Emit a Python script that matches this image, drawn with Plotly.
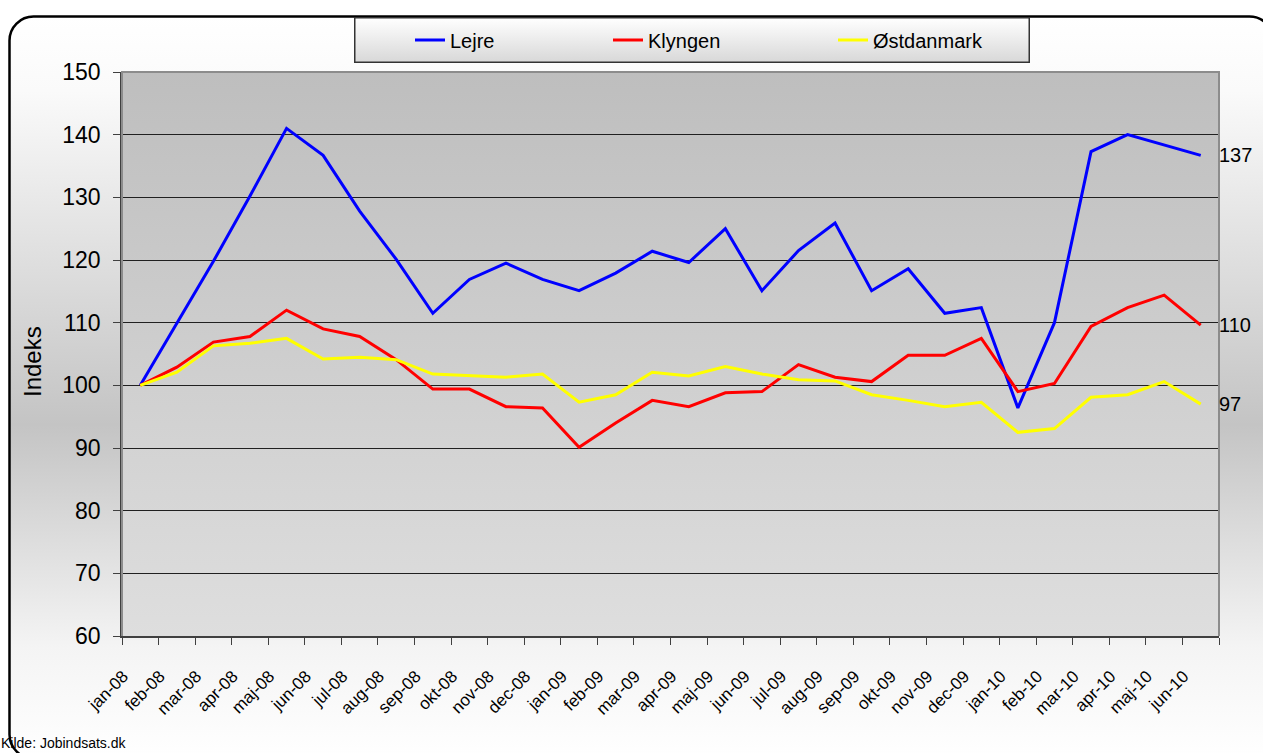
import base64
import plotly.graph_objects as go

months = ["jan-08", "feb-08", "mar-08", "apr-08", "maj-08", "jun-08", "jul-08", "aug-08",
          "sep-08", "okt-08", "nov-08", "dec-08", "jan-09", "feb-09", "mar-09", "apr-09",
          "maj-09", "jun-09", "jul-09", "aug-09", "sep-09", "okt-09", "nov-09", "dec-09",
          "jan-10", "feb-10", "mar-10", "apr-10", "maj-10", "jun-10"]

lejre = [100, 110, 119.8, 130.2, 141, 136.7, 127.8, 120.1, 111.5, 116.9, 119.5, 116.9,
         115.1, 117.9, 121.4, 119.6, 125, 115.1, 121.5, 125.9, 115.1, 118.6, 111.5, 112.4,
         96.4, 110, 137.3, 140, 138.3, 136.7]
klyngen = [100, 102.9, 106.9, 107.8, 112, 109, 107.8, 104.1, 99.4, 99.4, 96.6, 96.4,
           90.1, 94, 97.6, 96.6, 98.8, 99, 103.3, 101.3, 100.6, 104.8, 104.8, 107.5,
           99, 100.3, 109.4, 112.4, 114.4, 109.6]
ostdanmark = [100, 102.1, 106.3, 106.7, 107.5, 104.2, 104.5, 104.1, 101.8, 101.5, 101.3, 101.8,
              97.3, 98.5, 102.1, 101.5, 103, 101.8, 100.9, 100.7, 98.5, 97.6, 96.6, 97.3,
              92.5, 93.1, 98.1, 98.5, 100.6, 97.0]

series_names = ["Lejre", "Klyngen", "Østdanmark"]
series_values = [lejre, klyngen, ostdanmark]
series_colors = ["#0000ff", "#ff0000", "#ffff00"]

y_ticks = [60, 70, 80, 90, 100, 110, 120, 130, 140, 150]
y_title = "Indeks"
source_text = "Kilde: Jobindsats.dk"

W, H = 1263, 753
L, R, T, B = 122, 1219, 72, 636
PW, PH = R - L, B - T


def px_x(px):
    return (px - L) / PW


def px_y(py):
    return (B - py) / PH


def svg_uri(svg):
    return "data:image/svg+xml;base64," + base64.b64encode(svg.encode("utf-8")).decode("ascii")


FONT = "Arial, Liberation Sans, sans-serif"
x_idx = list(range(len(months)))

fig = go.Figure()
legend_names = ["legend", "legend2", "legend3"]
for name, vals, col, lg in zip(series_names, series_values, series_colors, legend_names):
    fig.add_trace(go.Scatter(x=x_idx, y=vals, name=name, mode="lines",
                             line=dict(color=col, width=3), legend=lg,
                             text=months, hovertemplate="%{text}: %{y}<extra>%{fullData.name}</extra>"))

# end labels
anns = []
for vals in series_values:
    anns.append(dict(xref="paper", x=1, xanchor="left", xshift=-2,
                     yref="y", y=vals[-1], yanchor="middle",
                     text=str(int(round(vals[-1]))), showarrow=False,
                     font=dict(family=FONT, size=20, color="#000000")))
anns.append(dict(xref="paper", x=px_x(32), xanchor="center", yref="paper", y=px_y(362),
                 yanchor="middle", text=y_title, textangle=-90, showarrow=False,
                 font=dict(family=FONT, size=24, color="#000000")))
anns.append(dict(xref="paper", x=px_x(-1), xanchor="left", yref="paper", y=px_y(743),
                 yanchor="middle", text=source_text, showarrow=False,
                 font=dict(family=FONT, size=14, color="#000000")))

# background gradients
ow, oh = 1275 - 8, 760 - 15
outer_svg = (
    f'<svg xmlns="http://www.w3.org/2000/svg" width="{ow}" height="{oh}" viewBox="0 0 {ow} {oh}" preserveAspectRatio="none">'
    '<defs><linearGradient id="og" x1="0" y1="0" x2="0" y2="1">'
    '<stop offset="0%" stop-color="#ffffff"/><stop offset="10%" stop-color="#fafafa"/>'
    '<stop offset="55%" stop-color="#c4c4c4"/><stop offset="85%" stop-color="#f4f4f4"/>'
    '<stop offset="100%" stop-color="#ffffff"/></linearGradient></defs>'
    f'<rect x="1.5" y="1.5" width="{ow-3}" height="{oh-3}" rx="24" ry="24" fill="url(#og)" stroke="#000000" stroke-width="2.5"/>'
    '</svg>')
plot_svg = (
    f'<svg xmlns="http://www.w3.org/2000/svg" width="{PW}" height="{PH}" viewBox="0 0 {PW} {PH}" preserveAspectRatio="none">'
    '<defs><linearGradient id="pg" x1="0" y1="0" x2="0" y2="1">'
    '<stop offset="0%" stop-color="#bebebe"/><stop offset="100%" stop-color="#dedede"/></linearGradient></defs>'
    f'<rect x="0" y="0" width="{PW}" height="{PH}" fill="url(#pg)"/></svg>')
lw, lh = 1030 - 354, 63 - 17
legend_svg = (
    f'<svg xmlns="http://www.w3.org/2000/svg" width="{lw}" height="{lh}" viewBox="0 0 {lw} {lh}" preserveAspectRatio="none">'
    '<defs><linearGradient id="lg" x1="0" y1="0" x2="0" y2="1">'
    '<stop offset="0%" stop-color="#ffffff"/><stop offset="100%" stop-color="#d8d8d8"/></linearGradient></defs>'
    f'<rect x="0.75" y="0.75" width="{lw-1.5}" height="{lh-1.5}" fill="url(#lg)" stroke="#333333" stroke-width="1.5"/></svg>')

images = [
    dict(source=svg_uri(outer_svg), xref="paper", yref="paper", x=px_x(8), y=px_y(15),
         sizex=ow / PW, sizey=oh / PH, xanchor="left", yanchor="top", sizing="stretch", layer="below"),
    dict(source=svg_uri(plot_svg), xref="paper", yref="paper", x=0, y=1,
         sizex=1, sizey=1, xanchor="left", yanchor="top", sizing="stretch", layer="below"),
    dict(source=svg_uri(legend_svg), xref="paper", yref="paper", x=px_x(354), y=px_y(17),
         sizex=lw / PW, sizey=lh / PH, xanchor="left", yanchor="top", sizing="stretch", layer="below"),
]

shapes = [
    dict(type="path", xref="paper", yref="paper", path="M 0,0 V 1 H 1 V 0",
         line=dict(color="#8c8c8c", width=2), layer="above"),
]

legend_text_x = [450, 648, 873]
leg_common = dict(orientation="h", bgcolor="rgba(0,0,0,0)", borderwidth=0,
                  font=dict(family=FONT, size=20, color="#000000"),
                  xanchor="left", yanchor="middle", y=px_y(40))
legends = {}
for lg, tx in zip(legend_names, legend_text_x):
    legends[lg] = dict(leg_common, x=px_x(tx - 40))

fig.update_layout(
    width=W, height=H, autosize=False,
    margin=dict(l=L, r=W - R, t=T, b=H - B, pad=0),
    paper_bgcolor="#ffffff", plot_bgcolor="rgba(0,0,0,0)",
    showlegend=True, hovermode="closest",
    images=images, shapes=shapes, annotations=anns,
    **legends,
)
fig.update_xaxes(type="linear", showgrid=False, zeroline=False, showline=True,
                 linecolor="#404040", linewidth=1.5,
                 tickmode="array", tickvals=x_idx, ticktext=months,
                 ticks="outside", ticklen=22, tickcolor="rgba(0,0,0,0)",
                 minor=dict(ticks="outside", ticklen=7, tickcolor="#404040", tick0=-0.5, dtick=1,
                            showgrid=False),
                 tickangle=-45, tickfont=dict(family=FONT, size=17, color="#000000"),
                 ticklabelshift=-17,
                 range=[-0.5, len(months) - 0.5], fixedrange=True)
fig.update_yaxes(range=[60, 150], tickvals=y_ticks, showgrid=True, gridcolor="#202020", gridwidth=1,
                 showline=True, linecolor="#404040", linewidth=1.5, ticks="outside", ticklen=7,
                 tickcolor="#404040", tickfont=dict(family=FONT, size=23, color="#000000"),
                 ticklabelstandoff=8, zeroline=False, fixedrange=True)

fig.write_html("out.html", config={"displayModeBar": False},
               post_script="document.body.style.margin='0';document.body.style.overflow='hidden';")
